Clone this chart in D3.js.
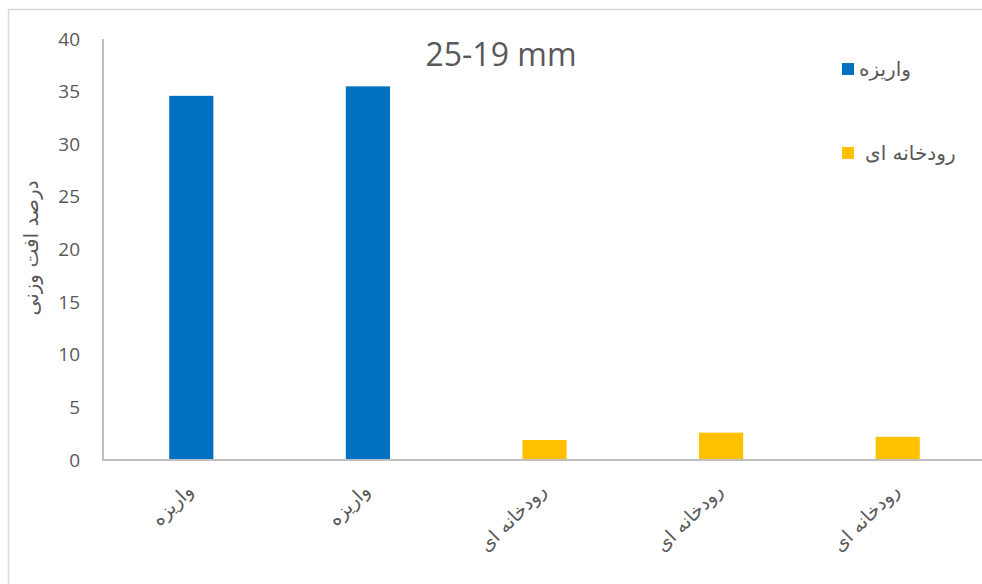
<!DOCTYPE html>
<html>
<head>
<meta charset="utf-8">
<script src="https://cdn.jsdelivr.net/npm/d3@7"></script>
<style>
  html, body { margin: 0; padding: 0; background: #fff; }
  svg { display: block; font-family: "Open Sans", "DejaVu Sans", sans-serif; }
</style>
</head>
<body>
<svg id="chart" width="982" height="584"></svg>
<script>
// Weight loss (%) for the 25-19 mm fraction, by aggregate type
const categories = ["واریزه", "واریزه", "رودخانه ای", "رودخانه ای", "رودخانه ای"];
const values = [34.6, 35.5, 1.9, 2.6, 2.2];
const seriesNames = ["واریزه", "رودخانه ای"];
const seriesColors = ["#0070c0", "#ffc000"];
const yTicks = [0, 5, 10, 15, 20, 25, 30, 35, 40];
const chartTitle = "25-19 mm";
const yTitle = "درصد افت وزنی";

const svg = d3.select("#chart");
const margin = { left: 103, top: 39, right: 986, bottom: 460 };

// outer chart frame
svg.append("rect")
  .attr("x", 8.5).attr("y", 9.5)
  .attr("width", 1000).attr("height", 640)
  .attr("fill", "none").attr("stroke", "#d9d9d9").attr("stroke-width", 1.5);

const x = d3.scaleBand()
  .domain(d3.range(categories.length))
  .range([margin.left, margin.right])
  .paddingInner(0.75).paddingOuter(0.375);

const y = d3.scaleLinear().domain([0, 40]).range([margin.bottom, margin.top]);

const colorOf = name => seriesColors[seriesNames.indexOf(name)];

// bars
svg.append("g").selectAll("rect")
  .data(values)
  .join("rect")
  .attr("x", (d, i) => x(i))
  .attr("y", d => y(d))
  .attr("width", x.bandwidth())
  .attr("height", d => y(0) - y(d))
  .attr("fill", (d, i) => colorOf(categories[i]));

// y axis (labels only, plus the vertical line)
const yAxis = svg.append("g")
  .attr("transform", `translate(${margin.left},0)`)
  .call(d3.axisLeft(y).tickValues(yTicks).tickSize(0).tickPadding(23));
yAxis.select(".domain").remove();
yAxis.selectAll("text")
  .attr("fill", "#595959")
  .style("font-size", "19px")
  .style("font-family", "'Open Sans', sans-serif");

svg.append("line")
  .attr("x1", margin.left).attr("x2", margin.left)
  .attr("y1", margin.top).attr("y2", margin.bottom)
  .attr("stroke", "#bfbfbf").attr("stroke-width", 2);

// x axis baseline and rotated category labels
const xAxis = svg.append("g")
  .attr("transform", `translate(0,${margin.bottom})`)
  .call(d3.axisBottom(x).tickSize(0).tickFormat(i => categories[i]));
xAxis.select(".domain").remove();
xAxis.selectAll("text")
  .attr("fill", "#595959")
  .style("font-size", "19px")
  .style("font-family", "'DejaVu Sans', sans-serif")
  .attr("text-anchor", "end")
  .attr("dy", 0)
  .attr("y", 0)
  .attr("transform", "translate(3,32) rotate(-45)");

svg.append("line")
  .attr("x1", margin.left - 1).attr("x2", 982)
  .attr("y1", margin.bottom).attr("y2", margin.bottom)
  .attr("stroke", "#bfbfbf").attr("stroke-width", 2);

// chart title
svg.append("text")
  .attr("x", 501).attr("y", 66)
  .attr("text-anchor", "middle")
  .attr("fill", "#595959")
  .style("font-size", "32px")
  .text(chartTitle);

// y axis title
svg.append("text")
  .attr("transform", "translate(38,248) rotate(-90)")
  .attr("text-anchor", "middle")
  .attr("fill", "#595959")
  .style("font-size", "20px")
  .style("font-family", "'DejaVu Sans', sans-serif")
  .text(yTitle);

// legend
const legend = svg.append("g");
const legendY = [69, 153];
seriesNames.forEach((name, i) => {
  legend.append("rect")
    .attr("x", 842).attr("y", legendY[i] - 6)
    .attr("width", 12).attr("height", 12)
    .attr("fill", seriesColors[i]);
  legend.append("text")
    .attr("x", i === 0 ? 859 : 865).attr("y", legendY[i])
    .attr("dy", "0.35em")
    .attr("fill", "#595959")
    .style("font-size", "20px")
    .style("font-family", "'DejaVu Sans', sans-serif")
    .text(name);
});
</script>
</body>
</html>
